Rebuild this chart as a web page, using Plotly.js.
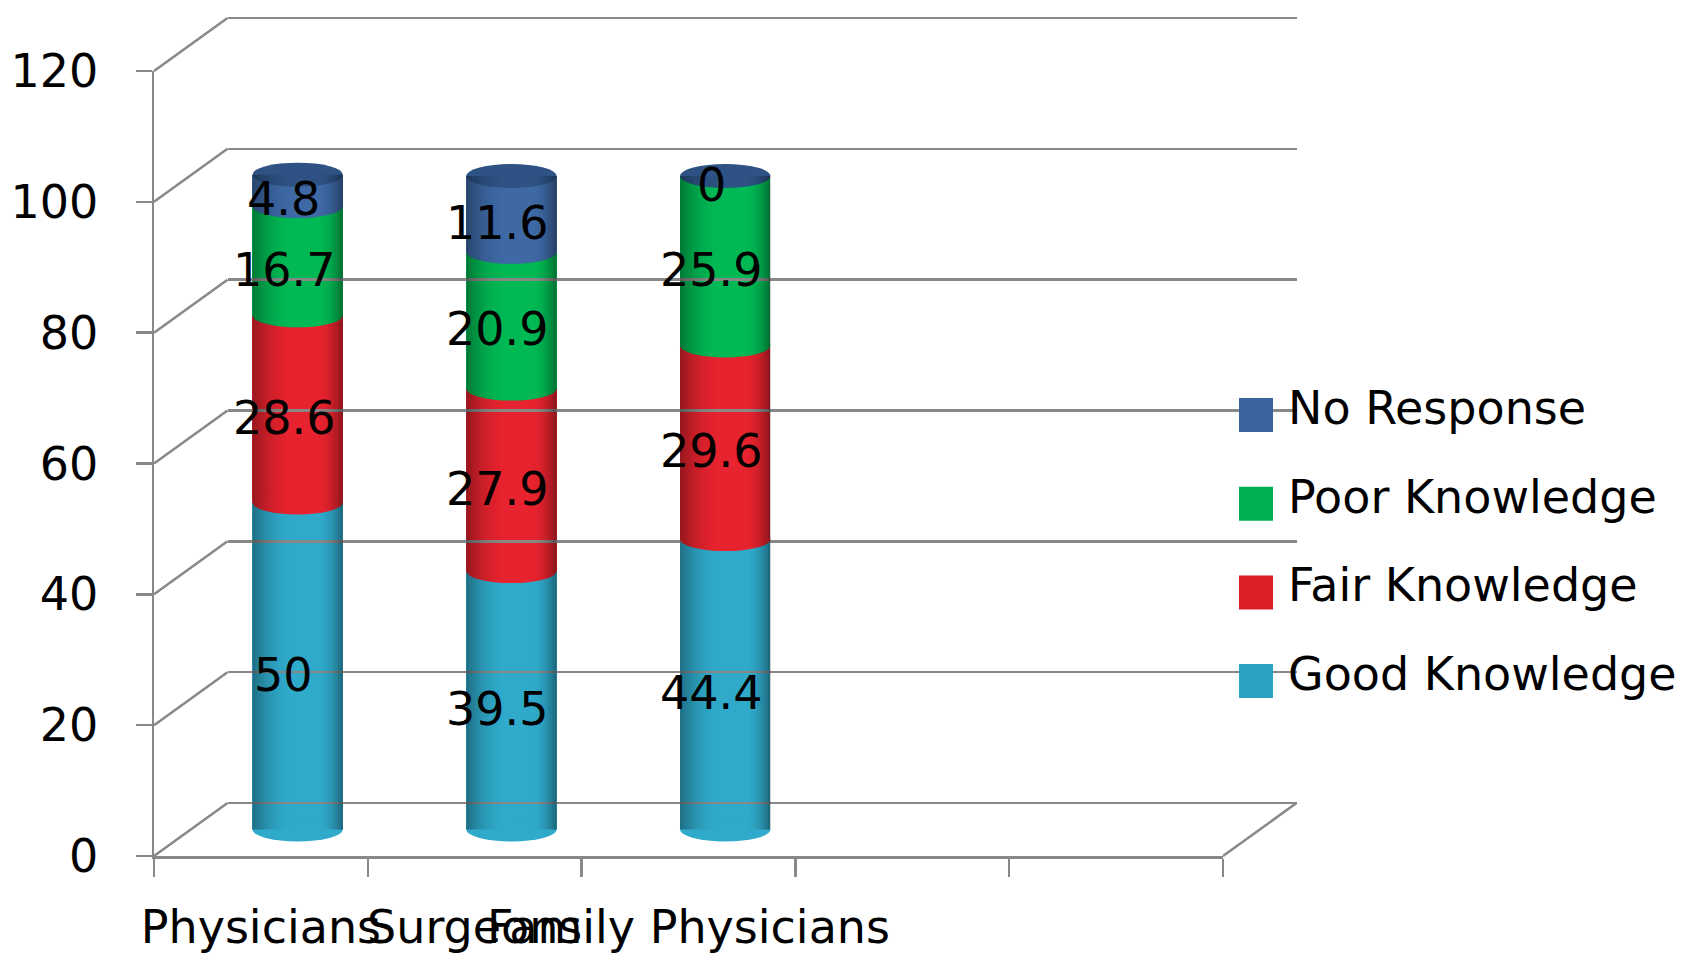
<!DOCTYPE html>
<html>
<head>
<meta charset="utf-8">
<script src="https://cdn.plot.ly/plotly-3.0.1.min.js"></script>
<style>
html,body{margin:0;padding:0;background:#ffffff;}
#chart{width:1684px;height:954px;}
</style>
</head>
<body>
<div id="chart"></div>
<script>
// ---------------- data ----------------
const categories = ['Physicians', 'Surgeons', 'Family Physicians'];
const seriesNames = ['Good Knowledge', 'Fair Knowledge', 'Poor Knowledge', 'No Response'];
const goodKnowledge = [50, 39.5, 44.4];
const fairKnowledge = [28.6, 27.9, 29.6];
const poorKnowledge = [16.7, 20.9, 25.9];
const noResponse = [4.8, 11.6, 0];
const yTicks = [0, 20, 40, 60, 80, 100, 120];

// ---------------- style ----------------
const seriesColors = ['#30aacb', '#e6232e', '#00b954', '#3e69a5'];
const legendColors = ['#2ca2c2', '#dc1f27', '#00b050', '#3a64a0'];
const topCapColor = '#2d5283';
const gridColor = '#888888';
const GW = 2.5;
const FONT = 'DejaVu Sans, Verdana, sans-serif';
const FS = 46;

// ---------------- geometry (pixels) ----------------
const W = 1684, H = 954;
const FX0 = 154, FX1 = 1223;   // front plane x extent
const FY0 = 856, FY1 = 71;     // front plane y for value 0 and 120
const DX = 73.5, DY = -53;     // depth offset to back wall
const YMAX = 120;
const NSLOTS = 5;
const BW = 0.423;              // bar width (category units)
const RY = 12;                 // ellipse half height (px)
const S = (FY0 - FY1) / YMAX;  // px per value unit
const YPAD = 4;                // extra value range below 0 for the bar plane (so caps are not clipped)
const GPAD = 1;                // extra value range for back wall so edge gridlines draw
const px = v => v / W;
const py = v => 1 - v / H;

const series = [goodKnowledge, fairKnowledge, poorKnowledge, noResponse];

// stacked bars on the mid-depth plane
const traces = series.map((vals, k) => ({
  type: 'bar',
  x: categories,
  y: vals,
  name: seriesNames[k],
  xaxis: 'x', yaxis: 'y',
  width: BW,
  marker: {color: seriesColors[k], line: {width: 0}},
  hoverinfo: 'skip',
  showlegend: false
}));

// ---------------- shapes ----------------
const shapes = [];
const yFront = v => FY0 + (FY1 - FY0) * v / YMAX;
// left wall diagonals
yTicks.forEach(v => {
  shapes.push({type: 'line', xref: 'paper', yref: 'paper', layer: 'below',
    x0: px(FX0), y0: py(yFront(v)), x1: px(FX0 + DX), y1: py(yFront(v) + DY),
    line: {color: gridColor, width: GW}});
});
// right floor diagonal
shapes.push({type: 'line', xref: 'paper', yref: 'paper', layer: 'below',
  x0: px(FX1), y0: py(FY0), x1: px(FX1 + DX), y1: py(FY0 + DY),
  line: {color: gridColor, width: GW}});

// cylinder decorations
const RYU = RY / S;
const ellipse = (i, yv, color) => ({
  type: 'circle', xref: 'x', yref: 'y', layer: 'above',
  x0: i - BW / 2, x1: i + BW / 2, y0: yv - RYU, y1: yv + RYU,
  fillcolor: color, line: {width: 0}
});
const NL = 14, NR = 10;

categories.forEach((c, i) => {
  let cum = 0;
  shapes.push(ellipse(i, 0, seriesColors[0]));
  series.forEach((vals, k) => {
    if (k > 0 && vals[i] > 0) shapes.push(ellipse(i, cum, seriesColors[k]));
    cum += vals[i];
  });
  shapes.push(ellipse(i, cum, topCapColor));
  const strip = (a, b, alpha) => shapes.push({
    type: 'rect', xref: 'x', yref: 'y', layer: 'above',
    x0: i - BW / 2 + a * BW, x1: i - BW / 2 + b * BW, y0: 0, y1: cum,
    fillcolor: 'rgba(0,0,0,' + alpha.toFixed(3) + ')', line: {width: 0}
  });
  // left edge shading: 0 .. 0.45 of width
  for (let s = 0; s < NL; s++) {
    const a = 0.45 * s / NL, b = 0.45 * (s + 1) / NL;
    const t = 1 - (s + 0.5) / NL;
    strip(a, b, 0.36 * t * t);
  }
  // right edge shading: 0.72 .. 1 of width
  for (let s = 0; s < NR; s++) {
    const a = 0.72 + 0.28 * s / NR, b = 0.72 + 0.28 * (s + 1) / NR;
    const t = (s + 0.5) / NR;
    strip(a, b, 0.42 * t * t);
  }
});

// ---------------- annotations (data labels) ----------------
const annotations = [];
categories.forEach((c, i) => {
  let cum = 0;
  series.forEach((vals, k) => {
    annotations.push({
      xref: 'x', yref: 'y', x: c, y: cum + vals[i] / 2,
      text: String(vals[i]), showarrow: false,
      xshift: -14, yshift: -9,
      font: {family: FONT, size: FS, color: '#000000'}
    });
    cum += vals[i];
  });
});

// ---------------- manual legend ----------------
const LEG_X0 = 1239, LEG_SZ = 34, LEG_TX = 1286, LEG_Y0 = 415, LEG_DY = 88.7;
for (let j = 0; j < series.length; j++) {
  const k = series.length - 1 - j;
  const cy = LEG_Y0 + j * LEG_DY;
  shapes.push({type: 'rect', xref: 'paper', yref: 'paper', layer: 'above',
    x0: px(LEG_X0), x1: px(LEG_X0 + LEG_SZ), y0: py(cy + LEG_SZ / 2), y1: py(cy - LEG_SZ / 2),
    fillcolor: legendColors[k], line: {width: 0}});
  annotations.push({xref: 'paper', yref: 'paper', x: px(LEG_TX), y: py(cy - 7),
    xanchor: 'left', yanchor: 'middle', showarrow: false, text: seriesNames[k],
    font: {family: FONT, size: FS, color: '#000000'}});
}

// ---------------- layout ----------------
const slotBounds = [];
for (let b = 0; b <= NSLOTS; b++) slotBounds.push(b - 0.5);

const layout = {
  width: W, height: H,
  margin: {l: 0, r: 0, t: 0, b: 0, pad: 0},
  paper_bgcolor: '#ffffff', plot_bgcolor: 'rgba(0,0,0,0)',
  barmode: 'stack',
  showlegend: false,
  font: {family: FONT, size: FS, color: '#000000'},
  // bars: mid-depth plane
  xaxis: {domain: [px(FX0 + DX / 2), px(FX1 + DX / 2)], type: 'category',
    categoryarray: categories, range: [-0.5, NSLOTS - 0.5], visible: false, fixedrange: true},
  yaxis: {domain: [py(FY0 + DY / 2 + YPAD * S), py(FY1 + DY / 2)], range: [-YPAD, YMAX],
    visible: false, fixedrange: true},
  // front axes
  xaxis2: {domain: [px(FX0), px(FX1)], anchor: 'y2', type: 'linear',
    range: [-0.5, NSLOTS - 0.5],
    tickvals: categories.map((c, i) => i), ticktext: categories,
    showline: true, linecolor: gridColor, linewidth: GW,
    ticks: '', tickangle: 0, showgrid: false, zeroline: false, ticklabelstandoff: 29,
    minor: {tickvals: slotBounds, ticks: 'outside', ticklen: 18, tickwidth: GW,
      tickcolor: gridColor, showgrid: false},
    tickfont: {family: FONT, size: FS, color: '#000000'}, fixedrange: true},
  yaxis2: {domain: [py(FY0), py(FY1)], anchor: 'x2', range: [0, YMAX],
    tickvals: yTicks, ticktext: yTicks.map(String),
    showline: true, linecolor: gridColor, linewidth: GW,
    ticks: 'outside', ticklen: 16, tickwidth: GW, tickcolor: gridColor,
    showgrid: false, zeroline: false, ticklabelstandoff: 28,
    tickfont: {family: FONT, size: FS, color: '#000000'}, fixedrange: true},
  // back wall
  xaxis3: {domain: [px(FX0 + DX), px(FX1 + DX)], anchor: 'y3', range: [0, 1],
    visible: false, showgrid: false, zeroline: false, fixedrange: true},
  yaxis3: {domain: [py(FY0 + DY + GPAD * S), py(FY1 + DY - GPAD * S)], anchor: 'x3',
    range: [-GPAD, YMAX + GPAD],
    tickvals: yTicks, showgrid: true, gridcolor: gridColor, gridwidth: GW,
    zeroline: false,
    showticklabels: false, ticks: '', showline: false, fixedrange: true},
  shapes: shapes,
  annotations: annotations
};

// empty traces so the front and back axes are drawn
traces.push({type: 'scatter', x: [], y: [], xaxis: 'x2', yaxis: 'y2', showlegend: false, hoverinfo: 'skip'});
traces.push({type: 'scatter', x: [], y: [], xaxis: 'x3', yaxis: 'y3', showlegend: false, hoverinfo: 'skip'});

Plotly.newPlot('chart', traces, layout, {displayModeBar: false, staticPlot: true});
</script>
</body>
</html>
